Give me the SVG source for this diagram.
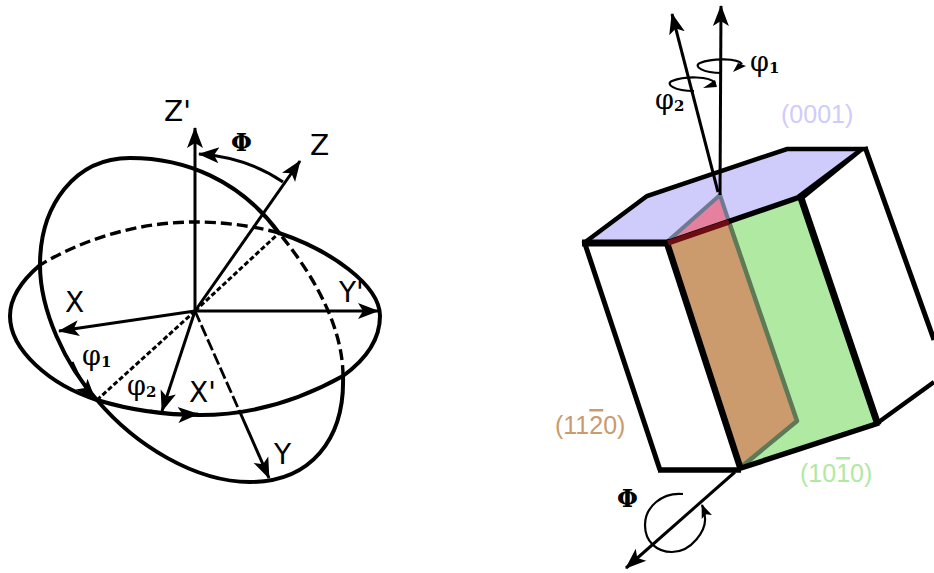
<svg xmlns="http://www.w3.org/2000/svg" width="934" height="573" viewBox="0 0 934 573">
<style>
.c{fill:none;stroke:#000;stroke-width:4}
.d{fill:none;stroke:#000;stroke-width:3.4;stroke-dasharray:11 5}
.a{fill:none;stroke:#000;stroke-width:3}
.y{fill:none;stroke:#000;stroke-width:2.8;stroke-dasharray:12 3.5}
.dd{fill:none;stroke:#000;stroke-width:3;stroke-dasharray:5 2.5}
.t{font-family:"DejaVu Sans",sans-serif;font-size:28px;fill:#000}
.g{font-family:"DejaVu Serif",serif;font-size:27px;fill:#000}
.s{font-size:15px;font-weight:bold}
.p{font-family:"DejaVu Serif",serif;font-size:24px;font-weight:bold;fill:#000}
.m{font-family:"Liberation Sans",sans-serif;font-size:25px}
.o{text-decoration:overline}
.e{fill:none;stroke:#000;stroke-linejoin:miter}
.r{fill:none;stroke:#000;stroke-width:2.2}
</style>
<defs>
<marker id="h" markerUnits="userSpaceOnUse" markerWidth="24" markerHeight="20" refX="20" refY="10" orient="auto"><path d="M0 2 L21 10 L0 18 L5 10Z" fill="#000"/></marker>
<marker id="hs" markerUnits="userSpaceOnUse" markerWidth="16" markerHeight="14" refX="13" refY="7" orient="auto"><path d="M0 1.5 L14 7 L0 12.5 L3 7Z" fill="#000"/></marker>
</defs>
<g id="euler-left">
<g id="circles">
<path class="c" d="M40 265C20 282 10 298 10 316C10 350 50 385 97 400C130 410 165 415 200 415C250 415 300 400 343 376C365 360 380 340 380 316C380 285 330 250 279 233"/>
<path class="d" d="M279 233C250 225 220 222 195 222C140 222 85 238 40 265"/>
<path class="c" d="M279 233C240 180 185 158 130 158C75 158 40 205 40 265C40 310 65 365 97 400C135 445 195 482 250 482C310 482 345 440 343 376"/>
<path class="d" d="M343 376C343 335 322 285 279 233"/>
</g>
<g id="connectors">
<path class="a" marker-end="url(#h)" d="M195 311V128"/>
<path class="a" marker-end="url(#h)" d="M195 311L300 161"/>
<path class="a" marker-end="url(#h)" d="M195 311L59 331"/>
<path class="a" marker-end="url(#h)" d="M195 311H378"/>
<path class="a" marker-end="url(#h)" d="M195 311L162 411"/>
<path class="dd" d="M195 311L279 233"/>
<path class="dd" d="M195 311L97 400"/>
<path class="y" d="M195 311L239 410"/>
<path class="a" marker-end="url(#h)" d="M239 410L269 478"/>
<path class="a" marker-end="url(#h)" d="M283 182C258 165 230 156 199 154"/>
<path class="a" marker-end="url(#h)" d="M72 362C78 376 85 388 95 399"/>
<path class="a" marker-end="url(#h)" d="M150 411C165 414 180 415 198 414"/>
</g>
<text class="t" x="164" y="121">Z'</text>
<text class="t" x="310" y="155">Z</text>
<text class="t" x="65" y="312">X</text>
<text class="t" x="339" y="302">Y'</text>
<text class="t" x="189" y="402">X'</text>
<text class="t" x="274" y="464">Y</text>
<text class="p" x="231" y="151">Φ</text>
<text class="g" x="82" y="365">φ<tspan class="s" dy="2">1</tspan></text>
<text class="g" x="127" y="395">φ<tspan class="s" dy="2">2</tspan></text>
</g>
<g id="crystal">
<path id="face-0001" fill="#cfcbfb" d="M584 243L647 196L787 149L865 149L800 197L666 241Z"/>
<path id="face-1010" fill="#b0e9a2" d="M729 222L800 197L877 423L740 468Z"/>
<path id="face-1120" fill="#cb9a6d" d="M668 243L729 222L797 421L740 468Z"/>
<path id="face-red" fill="#e5819f" d="M668 241L720 195L729 222Z"/>
<path fill="none" stroke="#6e7a92" stroke-width="4" d="M668 241L720 195L729 222"/>
<path fill="none" stroke="#5d7a56" stroke-width="4.5" stroke-linejoin="round" d="M729 222L797 421L740 468"/>
<g id="edges">
<path class="e" stroke-width="4.5" d="M868 149H787L647 196L584 243"/>
<path class="e" stroke-width="7" d="M582 243H668"/>
<path class="e" stroke-width="5.5" d="M666 243L800 197"/>
<path fill="#000" d="M797 195L861 147H868L803 200Z"/>
<path class="e" stroke-width="5" d="M584 241L660 470"/>
<path class="e" stroke-width="6.5" d="M666 240L741 470"/>
<path class="e" stroke-width="7" d="M800 195L878 425"/>
<path class="e" stroke-width="5" d="M865 147L934 340"/>
<path class="e" stroke-width="5.5" d="M658 470H741"/>
<path class="e" stroke-width="5.5" d="M738 469L879 423"/>
<path class="e" stroke-width="4.5" d="M876 424L934 382"/>
<path fill="none" stroke="#6d0d12" stroke-width="5.5" d="M668 243L729 222"/>
</g>
<g id="crystal-connectors">
<path class="a" marker-end="url(#h)" d="M720 195L721 6"/>
<path class="a" marker-end="url(#h)" d="M718 192L672 14"/>
<path class="a" marker-end="url(#h)" d="M735 472L626 568"/>
<path class="r" d="M722 73C702 73 693 66 700 63C712 58 738 58 742 64"/>
<path fill="#000" d="M733 72L746 66L738 63Z"/>
<path class="r" d="M694 91C674 91 665 84 672 81C685 76 710 76 715 83"/>
<path fill="#000" d="M703 88L717 87L715 80Z"/>
<path class="r" marker-end="url(#hs)" d="M683 494C662 492 645 507 645 525C645 542 657 552 672 552C692 552 706 530 705 518C705 513 704 510 702 505"/>
</g>
<text class="g" x="750" y="71">φ<tspan class="s" dy="2">1</tspan></text>
<text class="g" x="655" y="109">φ<tspan class="s" dy="2">2</tspan></text>
<text class="p" x="617" y="507">Φ</text>
<text class="m" x="781" y="123" fill="#cfcbfb">(0001)</text>
<text class="m" x="555" y="434" fill="#cb9a6d">(11<tspan class="o">2</tspan>0)</text>
<text class="m" x="800" y="482" fill="#b0e9a2">(10<tspan class="o">1</tspan>0)</text>
</g>
</svg>
